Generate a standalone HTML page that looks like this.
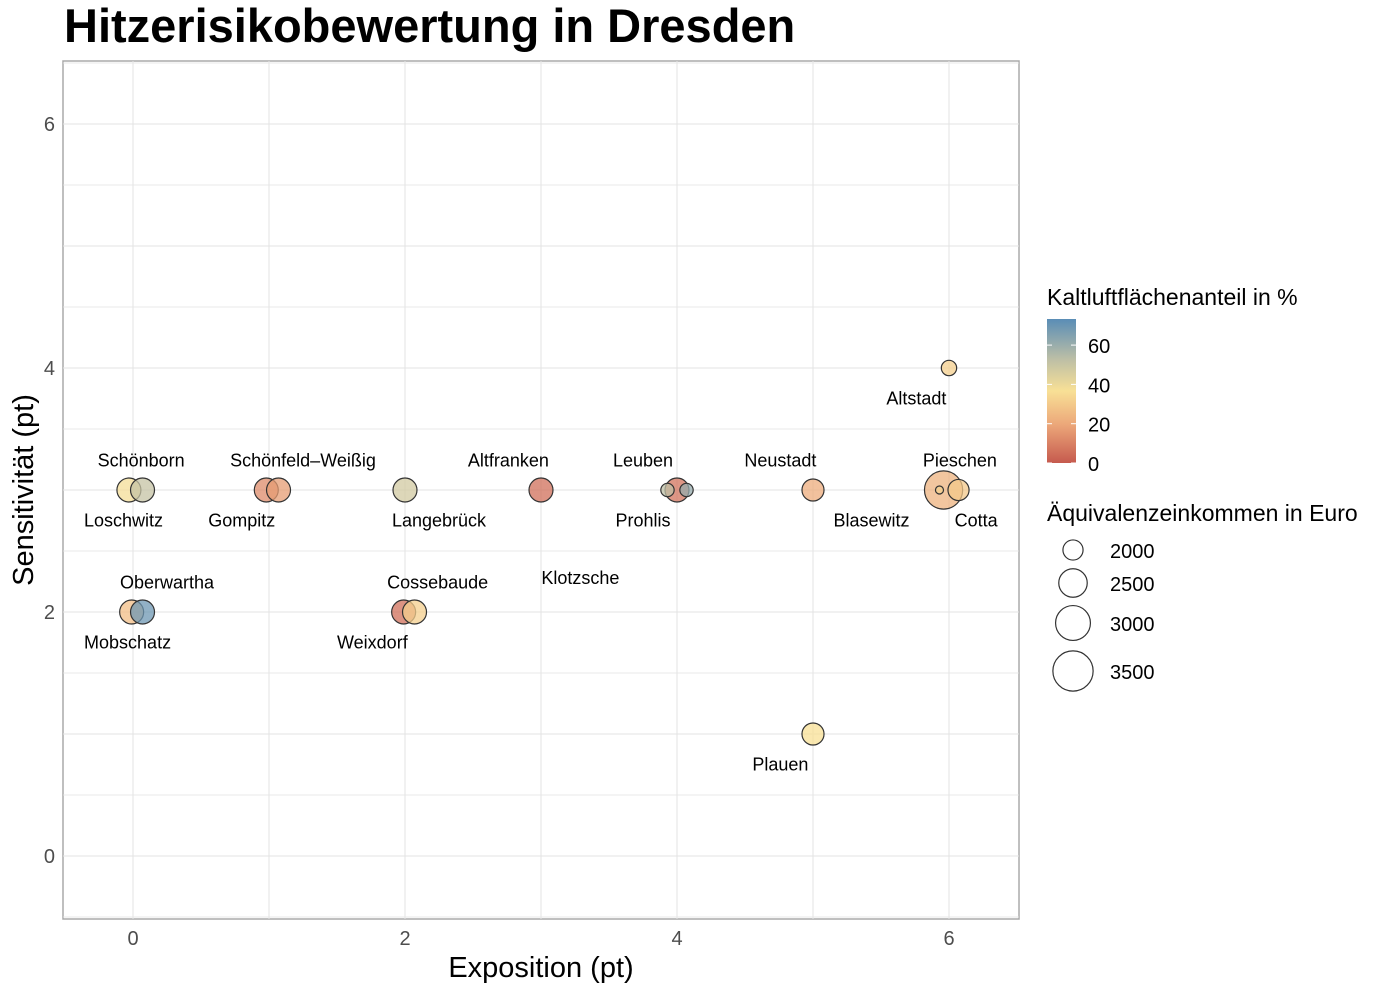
<!DOCTYPE html>
<html><head><meta charset="utf-8">
<style>
body{margin:0;background:#fff;width:1400px;height:992px;overflow:hidden;font-family:"Liberation Sans",sans-serif}
</style></head>
<body>
<svg id="chart" width="1400" height="992" xmlns="http://www.w3.org/2000/svg" font-family="Liberation Sans, sans-serif">
<defs>
<linearGradient id="cbar" x1="0" y1="1" x2="0" y2="0">
<stop offset="0" stop-color="#c65a4e"/>
<stop offset="0.27" stop-color="#eca87a"/>
<stop offset="0.5" stop-color="#f8e096"/>
<stop offset="0.72" stop-color="#bdbfa6"/>
<stop offset="1" stop-color="#5a8db6"/>
</linearGradient>
</defs>
<text x="64" y="42" font-size="47" font-weight="bold" fill="#000">Hitzerisikobewertung in Dresden</text>
<rect x="63" y="61" width="956" height="858" fill="#fff" stroke="#aaa" stroke-width="1.5"/>
<g id="grid"></g>
<g id="points"></g>
<g id="labels"></g>
<g id="axes"></g>
<text x="541" y="977" font-size="29" text-anchor="middle">Exposition (pt)</text>
<text transform="translate(33,490) rotate(-90)" font-size="29" text-anchor="middle">Sensitivität (pt)</text>
<g>
<text x="1047" y="305" font-size="23">Kaltluftflächenanteil in %</text>
<rect x="1047" y="319" width="29" height="144" fill="url(#cbar)"/>
<g id="cbticks"></g>
</g>
<g>
<text x="1047" y="521" font-size="23">Äquivalenzeinkommen in Euro</text>
<g id="sizeleg"></g>
</g>
</svg>
<script>
const names=["Schönborn","Loschwitz","Schönfeld-Weißig","Gompitz","Langebrück","Altfranken","Oberwartha","Mobschatz","Cossebaude","Weixdorf","Leuben","Prohlis","Leuben2","Neustadt","Pieschen","Blasewitz","Cotta","Altstadt","Plauen"];
const expo=[-0.03,0.07,0.98,1.07,2.0,3.0,-0.01,0.07,1.99,2.07,4.0,3.93,4.07,5.0,5.96,5.93,6.07,6.0,5.0];
const sens=[3,3,3,3,3,3,2,2,2,2,3,3,3,3,3,3,3,4,1];
const kalt=[36,48,12,16,45,5,25,66,5,30,6,50,58,20,22,30,28,30,35];
const income=[2210,2210,2210,2210,2210,2210,2210,2210,2210,2210,2210,1720,1720,2100,3300,1580,2050,1790,2100];
const labelText=["Schönborn","Loschwitz","Schönfeld–Weißig","Gompitz","Langebrück","Altfranken","Oberwartha","Mobschatz","Cossebaude","Weixdorf","Leuben","Prohlis","Neustadt","Pieschen","Blasewitz","Cotta","Altstadt","Plauen","Klotzsche"];
const labelX=[0.06,-0.07,1.25,0.8,2.25,2.76,0.25,-0.04,2.24,1.76,3.75,3.75,4.76,6.08,5.43,6.2,5.76,4.76,3.29];
const labelY=[3.24,2.75,3.24,2.75,2.75,3.24,2.24,1.75,2.24,1.75,3.24,2.75,3.24,3.24,2.75,2.75,3.75,0.75,2.28];
const xTicks=[0,2,4,6];
const yTicks=[0,2,4,6];
const cbTicks=[0,20,40,60];
const sizeLegend=[2000,2500,3000,3500];

const NS="http://www.w3.org/2000/svg";
const X=v=>133+v*136;
const Y=v=>856-v*122;
const R=v=>0.45*Math.sqrt(Math.max(0,v-1500));
const CB=v=>463-v*1.965;
const stops=[[0,[198,90,78]],[19,[236,168,122]],[35,[248,224,150]],[50,[189,191,166]],[70,[90,141,182]]];
function col(v){for(let i=1;i<stops.length;i++){if(v<=stops[i][0]||i==stops.length-1){const a=stops[i-1],b=stops[i];const t=Math.min(1,Math.max(0,(v-a[0])/(b[0]-a[0])));return "rgb("+a[1].map((c,k)=>Math.round(c+(b[1][k]-c)*t)).join(",")+")";}}}
function mk(tag,attrs,parent,txt){const e=document.createElementNS(NS,tag);for(const k in attrs)e.setAttribute(k,attrs[k]);if(txt!==undefined)e.textContent=txt;parent.appendChild(e);return e;}
const grid=document.getElementById("grid"),axes=document.getElementById("axes");
[-0.5,0,0.5,1,1.5,2,2.5,3,3.5,4,4.5,5,5.5,6,6.5].forEach(v=>{const y=Y(v);if(y>61&&y<919){const l=mk("line",{x1:63,x2:1019,y1:y,y2:y,stroke:"#e3e3e3","stroke-width":Number.isInteger(v)?1.1:0.8},grid);}});
[0,1,2,3,4,5,6].forEach(v=>{const x=X(v);if(x>63&&x<1019){const l=mk("line",{y1:61,y2:919,x1:x,x2:x,stroke:"#e3e3e3","stroke-width":1},grid);}});
xTicks.forEach(v=>{const t=mk("text",{x:X(v),y:945,"font-size":20,fill:"#4d4d4d","text-anchor":"middle"},axes,String(v));});
yTicks.forEach(v=>{const t=mk("text",{x:55,y:Y(v)+7,"font-size":20,fill:"#4d4d4d","text-anchor":"end"},axes,String(v));});
const pts=document.getElementById("points");
const order=income.map((v,i)=>i).sort((a,b)=>income[b]-income[a]);
order.forEach(i=>{const c=mk("circle",{cx:X(expo[i]),cy:Y(sens[i]),r:R(income[i]),fill:col(kalt[i]),"fill-opacity":0.75,stroke:"#333","stroke-width":1.2},pts);});
const lab=document.getElementById("labels");
labelText.forEach((s,i)=>{const t=mk("text",{x:X(labelX[i]),y:Y(labelY[i])+6,"font-size":18,"text-anchor":"middle",fill:"#000"},lab,s);});
const cbt=document.getElementById("cbticks");
cbTicks.forEach(v=>{const y=CB(v);mk("line",{x1:1047,x2:1052,y1:y,y2:y,stroke:"#fff","stroke-width":1},cbt);mk("line",{x1:1071,x2:1076,y1:y,y2:y,stroke:"#fff","stroke-width":1},cbt);const t=mk("text",{x:1088,y:y+8,"font-size":20},cbt,String(v));});
const sl=document.getElementById("sizeleg");
const slY=[550,583,623,671];
sizeLegend.forEach((v,i)=>{const c=mk("circle",{cx:1073,cy:slY[i],r:R(v),fill:"none",stroke:"#333","stroke-width":1.2},sl);const t=mk("text",{x:1110,y:slY[i]+8,"font-size":20},sl,String(v));});
</script>
</body></html>
